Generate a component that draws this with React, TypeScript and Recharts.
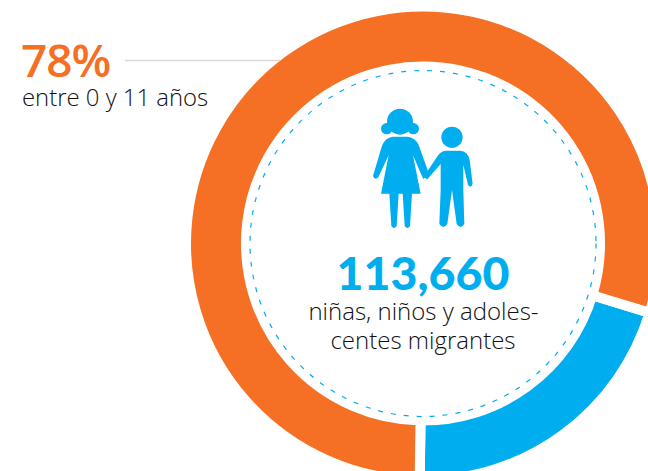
import React from "react";
import { PieChart, Pie, Cell } from "recharts";

const segmentNames = ["12 a 17 años", "0 a 11 años"];
const segmentShares = [20.5, 79.5];
const segmentColors = ["#00AEEF", "#F57024"];
const headline = "78%";
const headlineSub = "entre 0 y 11 años";
const totalLabel = "113,660";
const totalLines = ["niñas, niños y adoles-", "centes migrantes"];

const data = segmentNames.map((name, i) => ({ name, value: segmentShares[i] }));
const CX = 423;
const CY = 243.5;
const BLUE = "#00AEEF";

export default function App() {
  return (
    <div style={{ position: "absolute", left: 0, top: 0, width: 648, height: 471, overflow: "hidden", background: "#fff" }}>
      <PieChart width={648} height={471} margin={{ top: 0, right: 0, bottom: 0, left: 0 }}>
        <Pie
          data={data}
          dataKey="value"
          nameKey="name"
          cx={CX}
          cy={CY}
          innerRadius={177}
          outerRadius={237}
          startAngle={-17}
          endAngle={-377}
          stroke="#fff"
          strokeWidth={10}
          isAnimationActive={false}
          label={false}
          labelLine={false}
          rootTabIndex={-1}
        >
          {data.map((d, i) => (
            <Cell key={d.name} fill={segmentColors[i]} stroke="#fff" strokeWidth={10} />
          ))}
        </Pie>
      </PieChart>
      <svg width={648} height={471} style={{ position: "absolute", left: 0, top: 0 }}>
        <line x1={125} y1={60.5} x2={280} y2={60.5} stroke="#D9D9D6" strokeWidth={1.5} />
        <circle cx={CX} cy={CY} r={173} fill="none" stroke={BLUE} strokeWidth={1.2} strokeDasharray="5 8" />
        <g transform="translate(340,90) scale(0.3333)" fill={BLUE}>
          <circle cx={180} cy={95} r={39} />
          <circle cx={140} cy={116} r={17} />
          <circle cx={220} cy={116} r={17} />
          <path d="M158 140 H202 Q226 142 236 165 L264 243 L250 268 L219 196 L242 311 H216 L210 408 Q202 420 194 408 L188 311 H176 L170 408 Q162 420 154 408 L148 311 H123 L146 196 L115 262 Q105 272 99 258 L125 170 Q135 142 158 140 Z" />
          <circle cx={336} cy={142} r={32} />
          <path d="M320 182 H360 Q385 184 389 210 L398 282 Q392 296 384 284 L370 225 V300 L373 402 Q362 420 350 402 L336 300 L322 402 Q310 420 298 402 L302 300 V222 L262 268 L250 262 L295 195 Q305 182 320 182 Z" />
        </g>
        <text x={21} y={77} fontFamily="Open Sans" fontWeight={600} fontSize={46} letterSpacing={-1} fill="#F57024">{headline}</text>
        <text x={22} y={106} fontFamily="Open Sans" fontWeight={300} fontSize={23.9} fill="#111">{headlineSub}</text>
        <text x={423} y={290} textAnchor="middle" fontFamily="Lato" fontWeight={900} fontSize={46.5} fill={BLUE}>{totalLabel}</text>
        <text x={423.5} y={320} textAnchor="middle" fontFamily="Open Sans" fontWeight={300} fontSize={24} fill="#111">{totalLines[0]}</text>
        <text x={423} y={349} textAnchor="middle" fontFamily="Open Sans" fontWeight={300} fontSize={24} fill="#111">{totalLines[1]}</text>
      </svg>
    </div>
  );
}
